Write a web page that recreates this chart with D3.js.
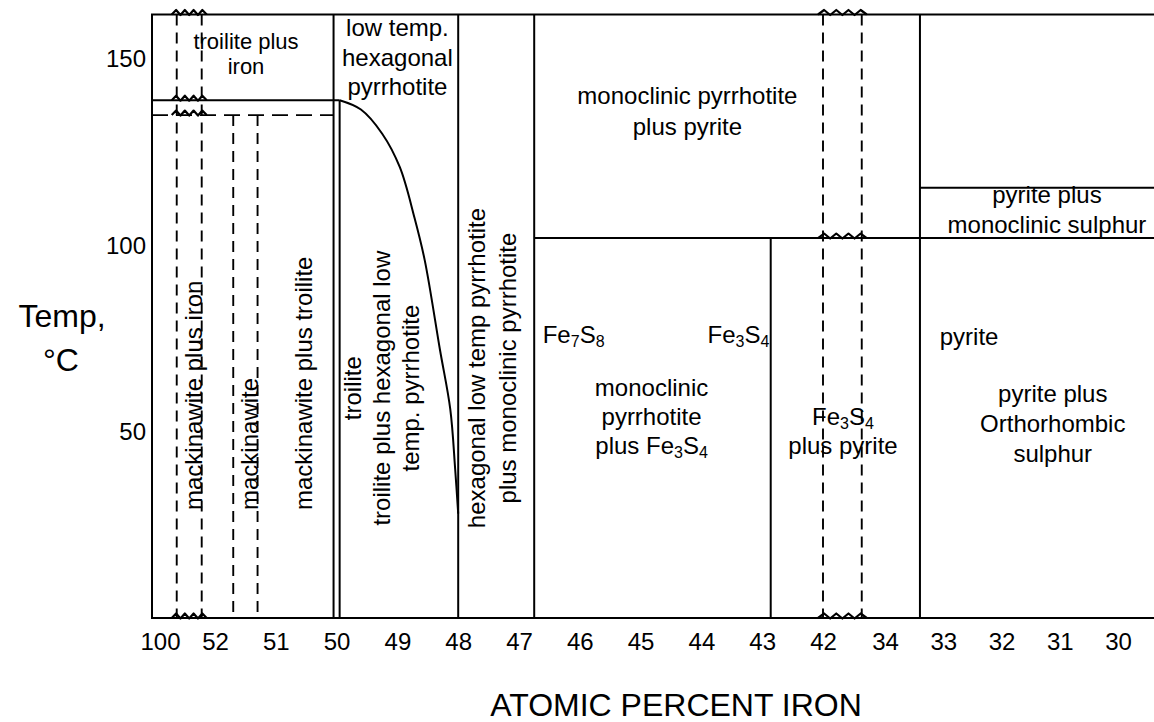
<!DOCTYPE html>
<html>
<head>
<meta charset="utf-8">
<script src="https://cdn.jsdelivr.net/npm/d3@7"></script>
<style>
  html, body { margin: 0; padding: 0; background: #fff; }
  svg { display: block; }
  text { font-family: "Liberation Sans", Arial, Helvetica, sans-serif; fill: #000; }
</style>
</head>
<body>
<svg id="chart" width="1154" height="722"></svg>
<script>
// Low-temperature phase relations in the Fe–S system, atomic percent iron on a broken axis

const xTicks = [100, 52, 51, 50, 49, 48, 47, 46, 45, 44, 43, 42, 34, 33, 32, 31, 30];
const yTicks = [50, 100, 150];
const tMax = 162;

// solid phase boundaries: composition and the temperature each one rises to
const boundaryFe  = [50.05, 49.95, 48, 46.75, 42.86, 33.4];
const boundaryTop = [162,   139,   162, 162,  102,   162];

// dashed verticals: axis-break pairs and the mackinawite field
const dashedFe  = [85.4, 63.6, 51.7, 51.3, 42,  37];
const dashedTop = [162,  162,  135,  135,  162, 162];

// isotherms: temperature, start and end composition (null = edge of the plot)
const isoT    = [139,   102,   115.5];
const isoFrom = [null,  46.75, 33.4];
const isoTo   = [49.95, null,  null];

// mackinawite breakdown temperature (dashed)
const mackT  = 135;
const mackTo = 50.05;

// troilite / hexagonal pyrrhotite solvus
const solvusFe = [49.95, 49.6, 49.25, 48.96, 48.72, 48.55, 48.3, 48.13, 48.05, 48.0];
const solvusT  = [139,   136.5, 130,  121,   107.5, 96,    72,   56,    40,    28];

// axis breaks: the two compositions bounding each break, and where a wavy mark is drawn
const breakPairs = [[85.4, 63.6], [42, 37]];
const breakTemps = [[162, 139, 135, 0], [162, 102, 0]];

// field names ("_n" marks a subscript digit)
const labelText = [
  ["troilite plus", "iron"],
  ["low temp.", "hexagonal", "pyrrhotite"],
  ["monoclinic pyrrhotite", "plus pyrite"],
  ["Fe_7S_8"],
  ["Fe_3S_4"],
  ["monoclinic", "pyrrhotite", "plus Fe_3S_4"],
  ["Fe_3S_4", "plus pyrite"],
  ["pyrite plus", "monoclinic sulphur"],
  ["pyrite"],
  ["pyrite plus", "Orthorhombic", "sulphur"],
  ["mackinawite plus iron"],
  ["mackinawite"],
  ["mackinawite plus troilite"],
  ["troilite", "troilite plus hexagonal low", "temp. pyrrhotite"],
  ["hexagonal low temp pyrrhotite", "plus monoclinic pyrrhotite"]
];

// where each field name sits (composition, temperature of the first baseline)
const labelLayout = [
  { fe: 51.49, t: 152.75, anchor: "middle", size: 22, lh: 25 },
  { fe: 49.0,  t: 156.2,  anchor: "middle", lh: 29.5 },
  { fe: 44.23, t: 138,    anchor: "middle", lh: 31 },
  { fe: 46.61, t: 73.8,   anchor: "start" },
  { fe: 43.9,  t: 73.8,   anchor: "start" },
  { fe: 44.82, t: 59.6,   anchor: "middle", lh: 29 },
  { fe: 39.42, t: 51.8,   anchor: "middle", lh: 28.5 },
  { fe: 31.22, t: 111.4,  anchor: "middle", lh: 30.3 },
  { fe: 33.06, t: 73.3,   anchor: "start" },
  { fe: 31.12, t: 58.1,   anchor: "middle", lh: 30 },
  { fe: 63.78, t: 29,     anchor: "start",  rotate: true },
  { fe: 51.29, t: 29,     anchor: "start",  rotate: true },
  { fe: 50.41, t: 29,     anchor: "start",  rotate: true },
  { fe: 49.6,  t: 61.7,   anchor: "middle", rotate: true, lh: 29 },
  { fe: 47.56, t: 67.1,   anchor: "middle", rotate: true, lh: 31.5 }
];

const W = 1154, H = 722;
const plotLeft = 152;
const fontSize = 24;
const stroke = "#000";
const lw = 2;

// piecewise scale: the axis is compressed across 100→52 and 42→34
const x = d3.scaleLinear()
  .domain([100, 52, 42, 34, 30])
  .range([160, 215, 823, 885, 1118]);
const y = d3.scaleLinear().domain([0, tMax]).range([618, 14.5]);

const svg = d3.select("#chart");
const g = svg.append("g");

// frame: left edge, top and bottom
g.append("line")
  .attr("x1", plotLeft).attr("x2", plotLeft)
  .attr("y1", y(0)).attr("y2", y(tMax))
  .attr("stroke", stroke).attr("stroke-width", lw);
g.selectAll("line.frameH").data([tMax, 0]).join("line")
  .attr("class", "frameH")
  .attr("x1", plotLeft - 1).attr("x2", W)
  .attr("y1", d => y(d)).attr("y2", d => y(d))
  .attr("stroke", stroke).attr("stroke-width", lw);

// dashed verticals
g.selectAll("line.dashV").data(d3.range(dashedFe.length)).join("line")
  .attr("class", "dashV")
  .attr("x1", i => x(dashedFe[i])).attr("x2", i => x(dashedFe[i]))
  .attr("y1", i => y(dashedTop[i])).attr("y2", y(0))
  .attr("stroke", stroke).attr("stroke-width", 1.9)
  .attr("stroke-dasharray", "11,7");

// mackinawite breakdown line
g.append("line")
  .attr("x1", plotLeft).attr("x2", x(mackTo))
  .attr("y1", y(mackT)).attr("y2", y(mackT))
  .attr("stroke", stroke).attr("stroke-width", 1.9)
  .attr("stroke-dasharray", "16,8");

// solid phase boundaries
g.selectAll("line.bound").data(d3.range(boundaryFe.length)).join("line")
  .attr("class", "bound")
  .attr("x1", i => x(boundaryFe[i])).attr("x2", i => x(boundaryFe[i]))
  .attr("y1", y(0)).attr("y2", i => y(boundaryTop[i]))
  .attr("stroke", stroke).attr("stroke-width", lw);

// isotherms
g.selectAll("line.iso").data(d3.range(isoT.length)).join("line")
  .attr("class", "iso")
  .attr("x1", i => isoFrom[i] == null ? plotLeft : x(isoFrom[i]))
  .attr("x2", i => isoTo[i] == null ? W : x(isoTo[i]))
  .attr("y1", i => y(isoT[i])).attr("y2", i => y(isoT[i]))
  .attr("stroke", stroke).attr("stroke-width", lw);

// solvus curve
const solvus = d3.line()
  .x(i => x(solvusFe[i]))
  .y(i => y(solvusT[i]))
  .curve(d3.curveCatmullRom.alpha(0.5));
g.append("path")
  .attr("d", solvus(d3.range(solvusFe.length)))
  .attr("fill", "none")
  .attr("stroke", stroke).attr("stroke-width", lw);

// wavy break marks across each horizontal line inside a break
function wavePath(xa, xb, yy) {
  const pad = 5, n = 4;
  const x0 = Math.min(xa, xb) - pad, x1 = Math.max(xa, xb) + pad;
  const step = (x1 - x0) / (2 * n);
  const pts = [[x0, yy]];
  for (let k = 1; k < 2 * n; k++) {
    pts.push([x0 + k * step, k % 2 ? yy - 4.5 : yy + 0.5]);
  }
  pts.push([x1, yy]);
  return d3.line()(pts);
}
breakPairs.forEach((pair, bi) => {
  g.selectAll(null).data(breakTemps[bi]).join("path")
    .attr("d", t => wavePath(x(pair[0]), x(pair[1]), y(t)))
    .attr("fill", "none")
    .attr("stroke", stroke).attr("stroke-width", 2.2)
    .attr("stroke-linejoin", "round");
});

// axes: labels only, no ticks or domain line
const xAxis = d3.axisBottom(x).tickValues(xTicks).tickSize(0).tickPadding(15)
  .tickFormat(d3.format("d"));
const gx = svg.append("g").attr("transform", `translate(0,${y(0)})`).call(xAxis);
gx.select(".domain").remove();
gx.selectAll("text").attr("font-size", fontSize)
  .style("font-family", '"Liberation Sans", Arial, sans-serif');

const yAxis = d3.axisLeft(y).tickValues(yTicks).tickSize(0).tickPadding(6);
const gy = svg.append("g").attr("transform", `translate(${plotLeft},0)`).call(yAxis);
gy.select(".domain").remove();
gy.selectAll("text").attr("font-size", fontSize)
  .style("font-family", '"Liberation Sans", Arial, sans-serif');

// axis titles
svg.append("text")
  .attr("x", 676).attr("y", 716)
  .attr("text-anchor", "middle").attr("font-size", 32)
  .text("ATOMIC PERCENT IRON");
const yt = svg.append("text").attr("text-anchor", "middle").attr("font-size", 32);
yt.append("tspan").attr("x", 62).attr("y", 327).text("Temp,");
yt.append("tspan").attr("x", 61).attr("y", 371).text("°C");

// field names
function addRich(sel, str, subSize) {
  const parts = str.split(/_(\d)/);
  parts.forEach((p, i) => {
    if (!p) return;
    if (i % 2 === 1) {
      sel.append("tspan").attr("font-size", subSize).attr("dy", 4).text(p);
    } else {
      sel.append("tspan").attr("dy", i === 0 ? 0 : -4).text(p);
    }
  });
}

labelText.forEach((lines, i) => {
  const L = labelLayout[i];
  const size = L.size || fontSize;
  const lh = L.lh || 30;
  const grp = g.append("g")
    .attr("transform", L.rotate
      ? `translate(${x(L.fe)},${y(L.t)}) rotate(-90)`
      : `translate(${x(L.fe)},${y(L.t)})`);
  const txt = grp.append("text")
    .attr("text-anchor", L.anchor)
    .attr("font-size", size);
  lines.forEach((line, k) => {
    const ts = txt.append("tspan").attr("x", 0).attr("y", k * lh);
    addRich(ts, line, Math.round(size * 0.68));
  });
});
</script>
</body>
</html>
